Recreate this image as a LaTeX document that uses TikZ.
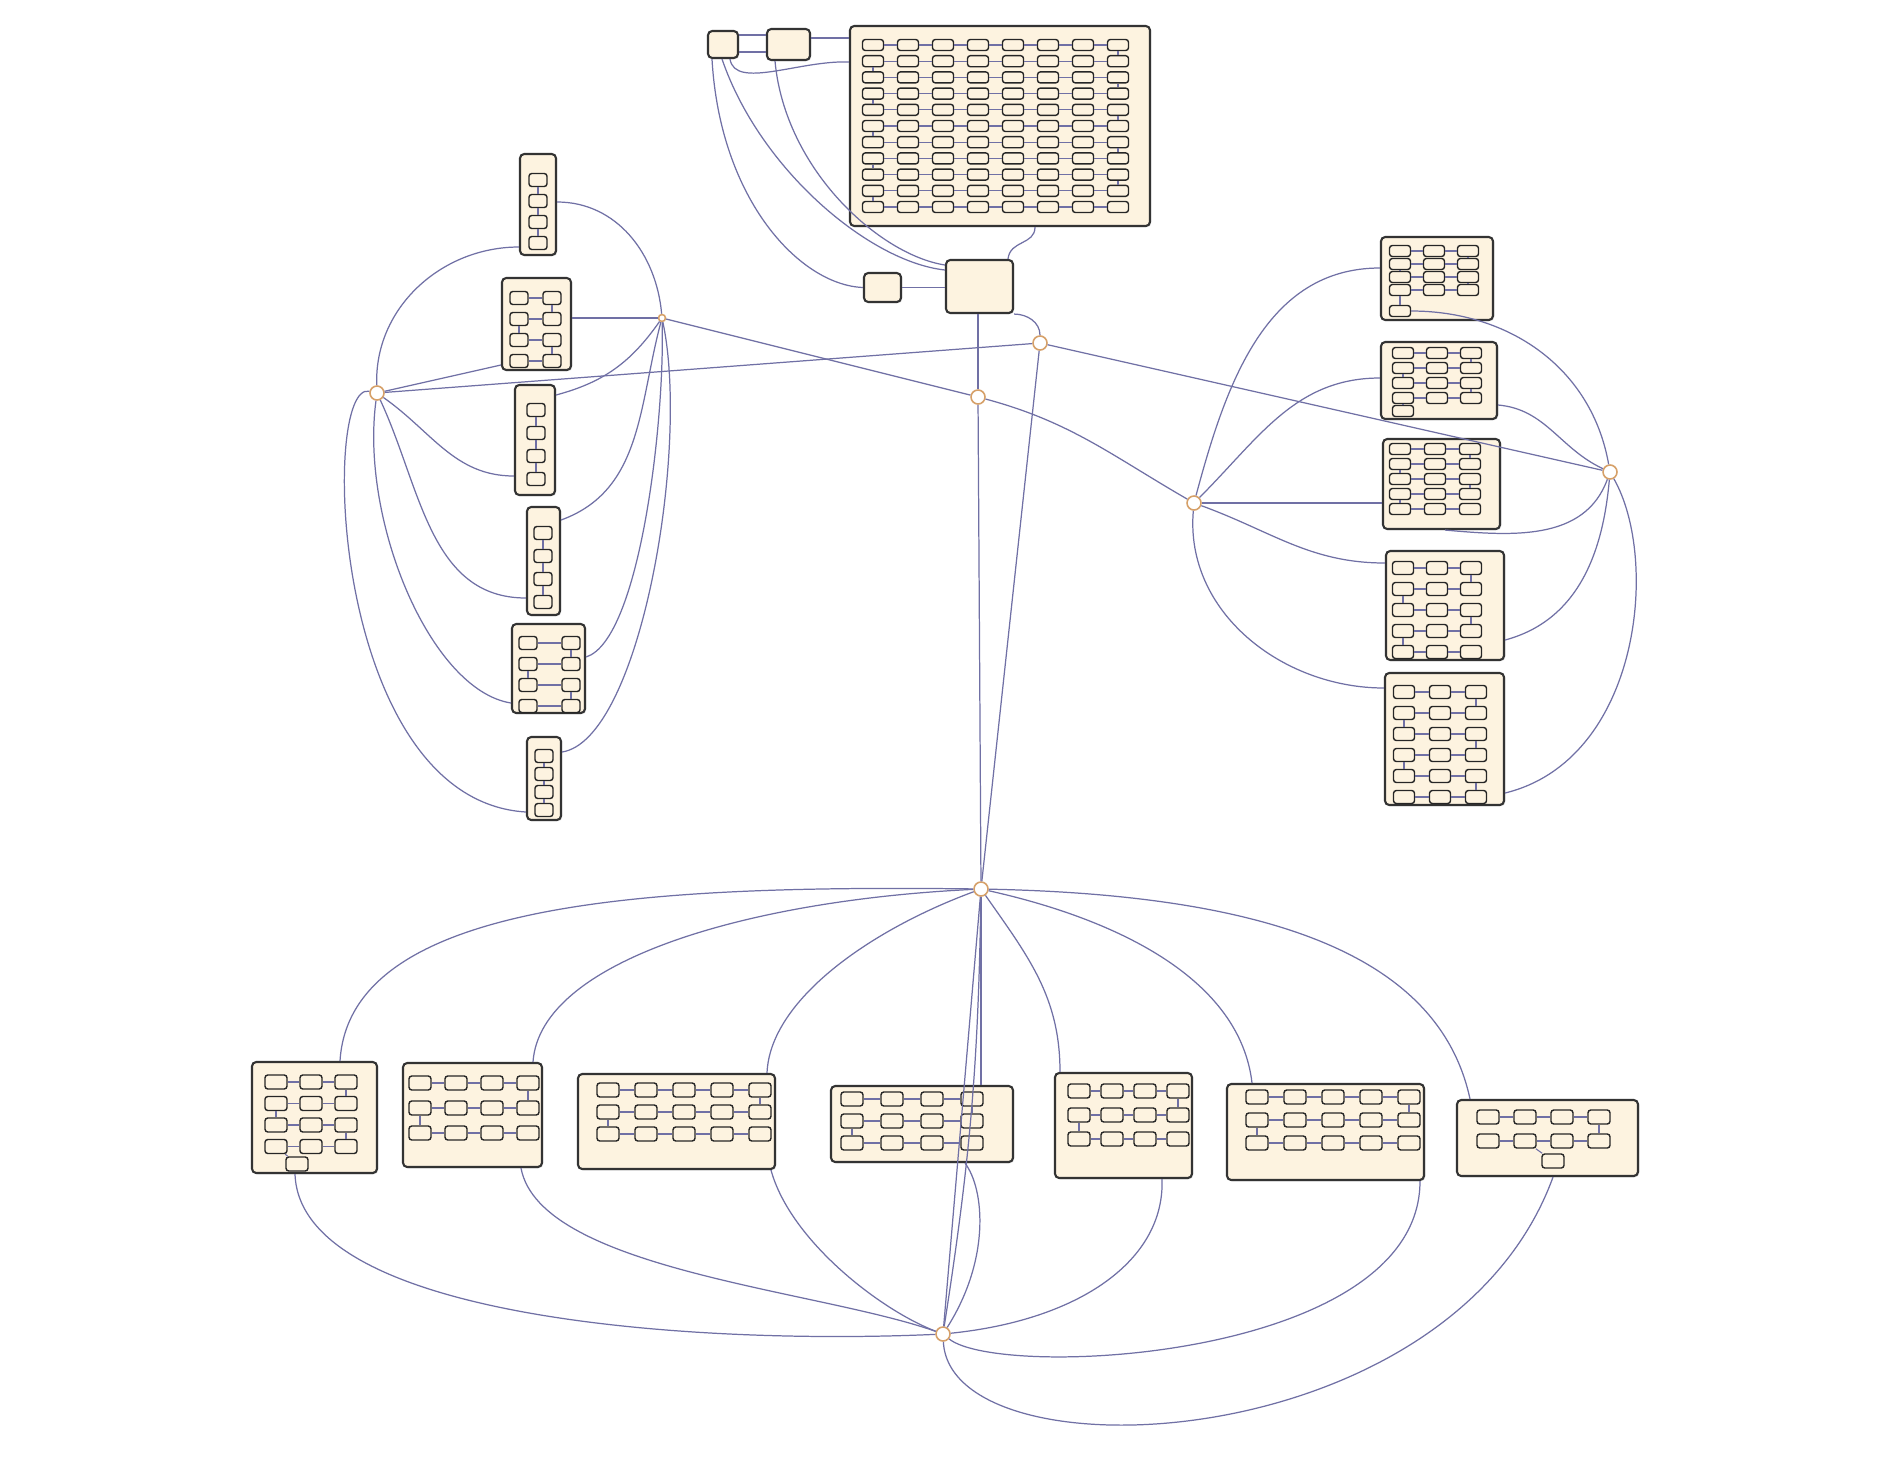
\documentclass[tikz,border=0pt]{standalone}
\usepackage{tikz}
\usetikzlibrary{arrows.meta, positioning, fit, shadows}
\definecolor{cream}{RGB}{253,243,224}
\definecolor{edgeblue}{RGB}{112,112,165}
\definecolor{hubring}{RGB}{214,160,104}

% grid of inner states: name, x0, y0, cols, rows, dx, dy
\newcommand{\stategrid}[7]{%
  \foreach \r in {1,...,#5}{%
    \foreach \c in {1,...,#4}{%
      \node[st] (#1-\r-\c) at ({#2+(\c-1)*#6},{#3+(\r-1)*#7}) {};
    }
    \ifnum#4>1
      \foreach \c in {2,...,#4}{%
        \pgfmathtruncatemacro\pp{\c-1}
        \draw[tr] (#1-\r-\pp) -- (#1-\r-\c);
      }
    \fi
  }
  \ifnum#5>1
    \foreach \r in {2,...,#5}{%
      \pgfmathtruncatemacro\qq{\r-1}
      \pgfmathtruncatemacro\kk{mod(\r,2)==0 ? #4 : 1}
      \draw[tr] (#1-\qq-\kk) -- (#1-\r-\kk);
    }
  \fi
}

\begin{document}
\begin{tikzpicture}[
		x=0.01cm, y=-0.01cm,
		ctr/.style={draw=black!80, fill=cream, rounded corners=1.2pt, line width=0.6pt, inner sep=0,
			drop shadow={opacity=0.25, shadow xshift=0.35pt, shadow yshift=-0.35pt}},
		st/.style={draw=black!85, fill=cream, rounded corners=0.8pt, minimum width=0.21cm, minimum height=0.11cm, inner sep=0, line width=0.4pt},
		tr/.style={draw=edgeblue, line width=0.3pt},
		hub/.style={circle, draw=hubring, fill=white, minimum size=0.14cm, inner sep=0, line width=0.45pt},
		conn/.style={draw=edgeblue, line width=0.35pt}
		]
		\useasboundingbox[fill=white] (0,0) rectangle (1888,1457);

		% Containers
		\node[ctr, fit={(708,31) (738,58)}] (ca) {};
		\node[ctr, fit={(767,29) (810,60)}] (cb) {};
		\node[ctr, fit={(850,26) (1150,226)}] (cc) {};
		\node[ctr, fit={(864,273) (901,302)}] (cd) {};
		\node[ctr, fit={(946,260) (1013,313)}] (ce) {};

		\node[ctr, fit={(520,154) (556,255)}] (l1) {};
		\node[ctr, fit={(502,278) (571,370)}] (l2) {};
		\node[ctr, fit={(515,385) (555,495)}] (l3) {};
		\node[ctr, fit={(527,507) (560,615)}] (l4) {};
		\node[ctr, fit={(512,624) (585,713)}] (l5) {};
		\node[ctr, fit={(527,737) (561,820)}] (l6) {};

		\node[ctr, fit={(1381,237) (1493,320)}] (r1) {};
		\node[ctr, fit={(1381,342) (1497,419)}] (r2) {};
		\node[ctr, fit={(1383,439) (1500,529)}] (r3) {};
		\node[ctr, fit={(1386,551) (1504,660)}] (r4) {};
		\node[ctr, fit={(1385,673) (1504,805)}] (r5) {};

		\node[ctr, fit={(252,1062) (377,1173)}] (b1) {};
		\node[ctr, fit={(403,1063) (542,1167)}] (b2) {};
		\node[ctr, fit={(578,1074) (775,1169)}] (b3) {};
		\node[ctr, fit={(831,1086) (1013,1162)}] (b4) {};
		\node[ctr, fit={(1055,1073) (1192,1178)}] (b5) {};
		\node[ctr, fit={(1227,1084) (1424,1180)}] (b6) {};
		\node[ctr, fit={(1457,1100) (1638,1176)}] (b7) {};

		% Inner states
		\stategrid{cc}{873}{45}{8}{11}{35}{16.2}
		\begin{scope}[st/.append style={minimum width=0.18cm, minimum height=0.13cm}]
		\stategrid{l1}{538}{180}{1}{4}{0}{21}
		\stategrid{l2}{519}{298}{2}{4}{33}{21}
		\stategrid{l3}{536}{410}{1}{4}{0}{23}
		\stategrid{l4}{543}{533}{1}{4}{0}{23}
		\stategrid{l5}{528}{643}{2}{4}{43}{21}
		\stategrid{l6}{544}{756}{1}{4}{0}{18}
		\end{scope}
		\stategrid{r1}{1400}{251}{3}{4}{34}{13}
		\stategrid{r2}{1403}{353}{3}{4}{34}{15}
		\stategrid{r3}{1400}{449}{3}{5}{35}{15}
		\begin{scope}[st/.append style={minimum height=0.13cm}]
		\stategrid{r4}{1403}{568}{3}{5}{34}{21}
		\stategrid{r5}{1404}{692}{3}{6}{36}{21}
		\end{scope}
		\begin{scope}[st/.append style={minimum width=0.22cm, minimum height=0.14cm}]
		\stategrid{b1}{276}{1082}{3}{4}{35}{21.5}
		\stategrid{b2}{420}{1083}{4}{3}{36}{25}
		\stategrid{b3}{608}{1090}{5}{3}{38}{22}
		\stategrid{b4}{852}{1099}{4}{3}{40}{22}
		\stategrid{b5}{1079}{1091}{4}{3}{33}{24}
		\stategrid{b6}{1257}{1097}{5}{3}{38}{23}
		\stategrid{b7}{1488}{1117}{4}{2}{37}{24}
		\node[st] (b1-x) at (297,1164) {};
		\node[st] (b7-x) at (1553,1161) {};
		\end{scope}
		\node[st] (r1-x) at (1400,311) {};
		\node[st] (r2-x) at (1403,411) {};
		\draw[tr] (r1-4-1) -- (r1-x);
		\draw[tr] (r2-4-1) -- (r2-x);
		\draw[tr] (b1-4-1) -- (b1-x);
		\draw[tr] (b7-2-2) -- (b7-x);

		% Hubs
		\node[hub] (hl) at (377,393) {};
		\node[hub, minimum size=0.07cm] (hm) at (662,318) {};
		\node[hub] (hc) at (978,397) {};
		\node[hub] (hd) at (1040,343) {};
		\node[hub] (hr) at (1194,503) {};
		\node[hub] (hs) at (1610,472) {};
		\node[hub] (hb) at (981,889) {};
		\node[hub] (hbb) at (943,1334) {};

		% Top connections
		\draw[conn] (ca.east |- 0,35) -- (cb.west |- 0,35);
		\draw[conn] (ca.east |- 0,52) -- (cb.west |- 0,52);
		\draw[conn] (cb.east |- 0,38) -- (cc.west |- 0,38);
		\draw[conn] (ca.south -| 730,0) .. controls (735,90) and (800,60) .. (cc.west |- 0,62);
		\draw[conn] (ca.south -| 712,0) .. controls (720,200) and (800,285) .. (cd.west);
		\draw[conn] (ca.south -| 722,0) .. controls (760,170) and (870,262) .. (ce.west |- 0,270);
		\draw[conn] (cb.south -| 775,0) .. controls (785,170) and (880,255) .. (ce.west |- 0,265);
		\draw[conn] (cd.east) -- (ce.west |- cd.east);
		\draw[conn] (cc.south -| 1035,0) .. controls (1035,245) and (1010,240) .. (ce.north -| 1008,0);
		\draw[conn] (ce.south -| hc) -- (hc);
		\draw[conn] (ce.south east) to[out=0,in=90] (hd);

		% Left connections
		\draw[conn] (hl) to[out=92,in=180] (l1.west |- 0,247);
		\draw[conn] (hl) -- (l2.west |- 0,365);
		\draw[conn] (hl) -- (hd);
		\draw[conn] (hl) to[out=-35,in=180] (l3.west |- 0,476);
		\draw[conn] (hl) to[out=-65,in=180] (l4.west |- 0,598);
		\draw[conn] (hl) .. controls (360,520) and (430,690) .. (l5.west |- 0,703);
		\draw[conn] (hl) .. controls (320,380) and (330,800) .. (l6.west |- 0,812);
		\draw[conn] (l1.east |- 0,202) to[out=0,in=95] (hm);
		\draw[conn] (l2.east |- hm) -- (hm);
		\draw[conn] (l3.east |- 0,395) to[out=15,in=-125] (hm);
		\draw[conn] (l4.east |- 0,520) to[out=20,in=-105] (hm);
		\draw[conn] (l5.east |- 0,657) .. controls (640,640) and (665,420) .. (hm);
		\draw[conn] (l6.east |- 0,752) .. controls (640,740) and (690,450) .. (hm);
		\draw[conn] (hm) -- (hc);

		% Middle connections
		\draw[conn] (hc) to[out=-15,in=150] (hr);
		\draw[conn] (hc) -- (hb);
		\draw[conn] (hd) -- (hb);
		\draw[conn] (hd) -- (hs);

		% Right connections
		\draw[conn] (hr) to[out=75,in=180] (r1.west |- 0,268);
		\draw[conn] (hr) to[out=45,in=180] (r2.west |- 0,378);
		\draw[conn] (hr) -- (r3.west |- hr);
		\draw[conn] (hr) to[out=-20,in=180] (r4.west |- 0,563);
		\draw[conn] (hr) to[out=-95,in=180] (r5.west |- 0,688);
		\draw[conn] (r1-x.east) to[out=0,in=100] (hs);
		\draw[conn] (r2.east |- 0,405) to[out=-5,in=155] (hs);
		\draw[conn] (r3.south -| 1445,0) to[out=-5,in=-110] (hs);
		\draw[conn] (r4.east |- 0,640) to[out=15,in=-95] (hs);
		\draw[conn] (r5.east |- 0,793) .. controls (1640,760) and (1660,560) .. (hs);

		% Bottom connections
		\draw[conn] (hb) .. controls (650,885) and (350,900) .. (b1.north -| 340,0);
		\draw[conn] (hb) .. controls (750,900) and (540,960) .. (b2.north -| 533,0);
		\draw[conn] (hb) .. controls (870,930) and (770,1000) .. (b3.north -| 767,0);
		\draw[conn] (hb) -- (b4.north -| hb);
		\draw[conn] (hb) to[out=-55,in=90] (b5.north -| 1060,0);
		\draw[conn] (hb) .. controls (1120,920) and (1240,980) .. (b6.north -| 1252,0);
		\draw[conn] (hb) .. controls (1280,895) and (1440,960) .. (b7.north -| 1470,0);
		\draw[conn] (hb) -- (hbb);
		\draw[conn] (hb) to[bend left=4] (hbb);
		\draw[conn] (hbb) .. controls (700,1345) and (300,1320) .. (b1.south -| 295,0);
		\draw[conn] (hbb) .. controls (820,1290) and (540,1270) .. (b2.south -| 521,0);
		\draw[conn] (hbb) .. controls (880,1310) and (790,1240) .. (b3.south -| 771,0);
		\draw[conn] (hbb) .. controls (990,1260) and (985,1190) .. (b4.south -| 965,0);
		\draw[conn] (hbb) .. controls (1080,1320) and (1165,1260) .. (b5.south -| 1162,0);
		\draw[conn] (hbb) .. controls (1000,1380) and (1420,1360) .. (b6.south -| 1420,0);
		\draw[conn] (hbb) .. controls (950,1480) and (1450,1460) .. (b7.south -| 1553,0);
	\end{tikzpicture}
\end{document}
